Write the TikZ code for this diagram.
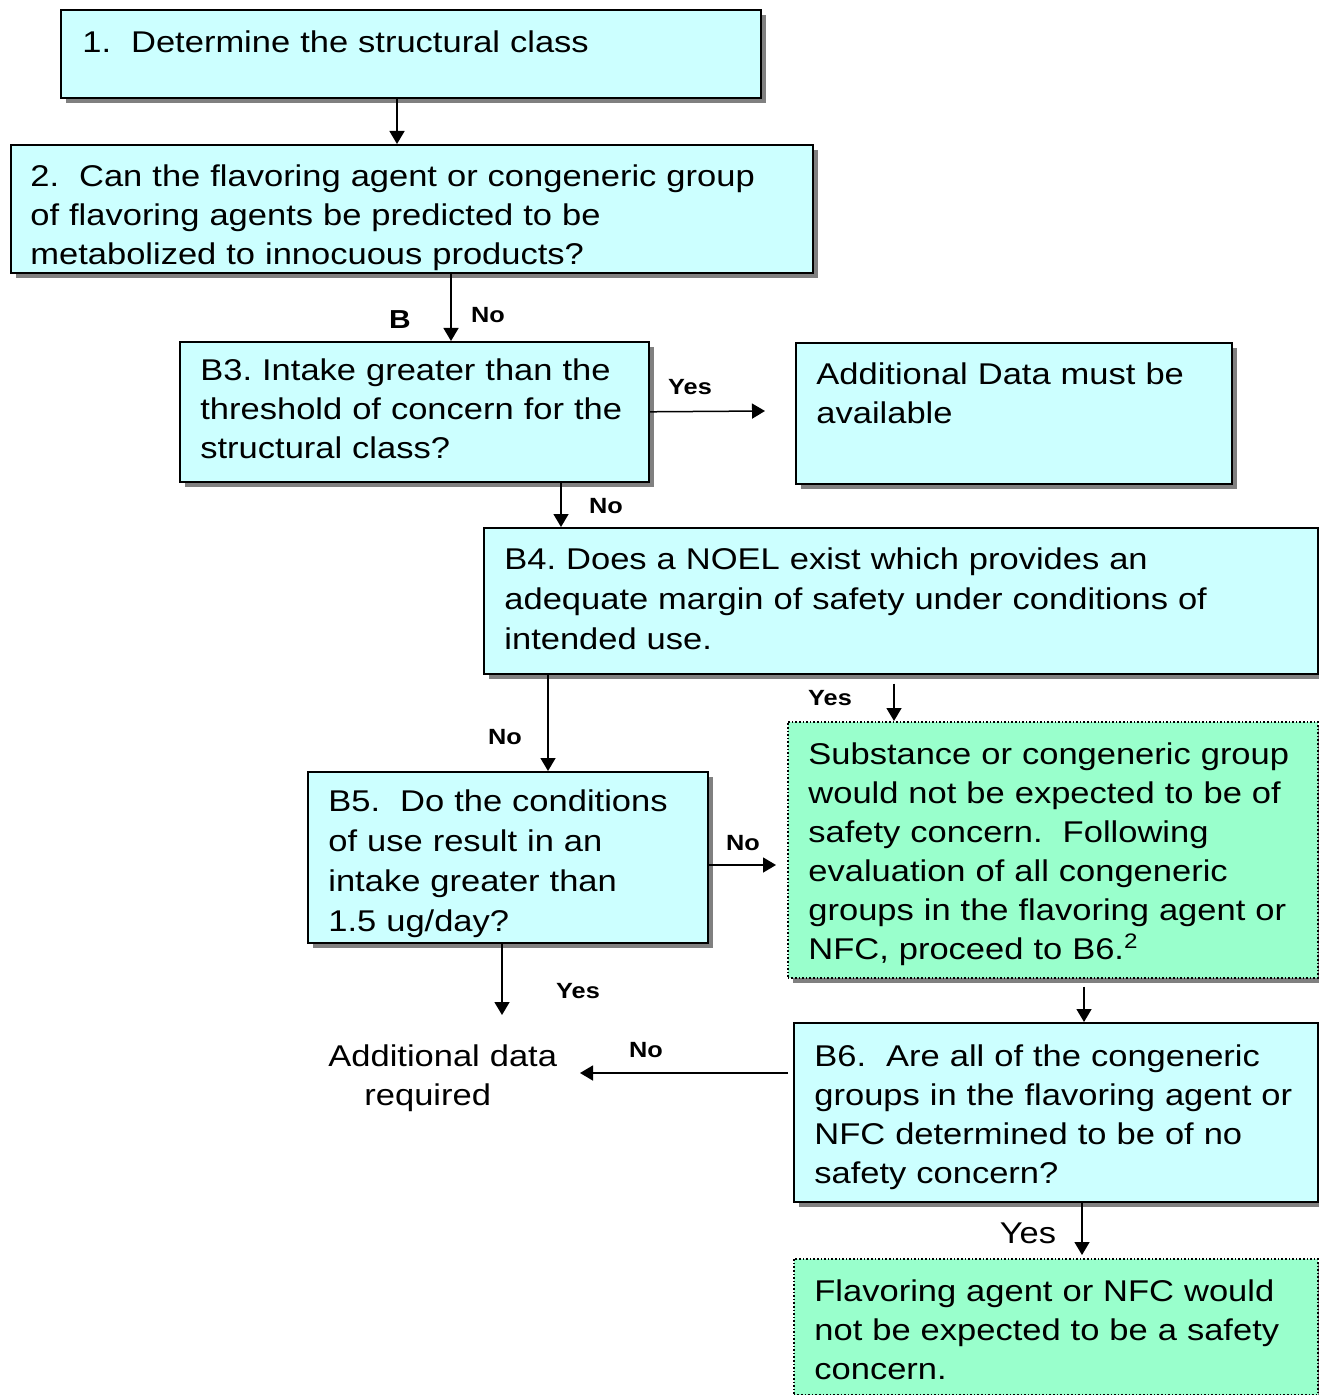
\documentclass[tikz,border=0pt]{standalone}
\usepackage{fontspec}
\setmainfont{Liberation Sans}[FakeStretch=1.15]
\usepackage{tikz}
\usetikzlibrary{arrows.meta,positioning,calc,shadows}
\definecolor{boxcyan}{HTML}{CCFFFF}
\definecolor{boxgreen}{HTML}{99FFCC}
\definecolor{shade}{HTML}{808080}
\tikzset{
    stepbox/.style={draw=black,fill=boxcyan,line width=0.8pt,anchor=north west,
      inner sep=0pt,drop shadow={shadow xshift=2.5pt,shadow yshift=-2.5pt,
      fill=shade,opacity=1}},
    okbox/.style={stepbox,fill=boxgreen,densely dotted},
    boxtext/.style={anchor=base west,inner sep=0pt,align=left,
      font=\fontsize{15}{19.5}\selectfont\frenchspacing},
    answer/.style={inner sep=0pt,font=\fontsize{11}{13}\selectfont\bfseries},
    flowarrow/.style={-{Triangle[length=6.5pt,width=7.5pt]},draw=black,
      line width=0.75pt}
}

\begin{document}
\begin{tikzpicture}[x=0.5pt,y=-0.5pt]
  \useasboundingbox (0,0) rectangle (1318,1395);

  % boxes
  \node[stepbox,minimum width=350pt,minimum height=44pt] (n1) at (60,9) {};
  \node[stepbox,minimum width=401pt,minimum height=64pt] (n2) at (10,144) {};
  \node[stepbox,minimum width=234.5pt,minimum height=70pt] (b3) at (179,341) {};
  \node[stepbox,minimum width=218pt,minimum height=70.5pt] (adddata) at (795,342) {};
  \node[stepbox,minimum width=417pt,minimum height=73pt] (b4) at (483,527) {};
  \node[okbox,minimum width=265pt,minimum height=128pt] (safe1) at (787,721) {};
  \node[stepbox,minimum width=200pt,minimum height=85.5pt] (b5) at (307,771) {};
  \node[stepbox,minimum width=262pt,minimum height=89.5pt] (b6) at (793,1022) {};
  \node[okbox,minimum width=262pt,minimum height=68pt] (safe2) at (793,1258) {};

  % box texts
  \node[boxtext,text width=340pt] (n1t) at ($(n1.north west)+(22,44)$)
    {1.\ \ Determine the structural class};
  \node[boxtext,text width=390pt] (n2t) at ($(n2.north west)+(20,43)$)
    {2.\ \ Can the flavoring agent or congeneric group\\
     of flavoring agents be predicted to be\\
     metabolized to innocuous products?};
  \node[boxtext,text width=230pt] (b3t) at ($(b3.north west)+(21,40)$)
    {B3. Intake greater than the\\threshold of concern for the\\structural class?};
  \node[boxtext,text width=210pt] (adddatat) at ($(adddata.north west)+(21,43)$)
    {Additional Data must be\\available};
  \node[boxtext,text width=405pt,
    font=\fontsize{15}{20}\selectfont\frenchspacing] (b4t) at ($(b4.north west)+(21,42)$)
    {B4. Does a NOEL exist which provides an\\
     adequate margin of safety under conditions of\\
     intended use.};
  \node[boxtext,text width=260pt] (safe1t) at ($(safe1.north west)+(21,43)$)
    {Substance or congeneric group\\would not be expected to be of\\
     safety concern.\ \ Following\\evaluation of all congeneric\\
     groups in the flavoring agent or\\NFC, proceed to B6.\textsuperscript{2}};
  \node[boxtext,text width=195pt,
    font=\fontsize{15}{20}\selectfont\frenchspacing] (b5t) at ($(b5.north west)+(21,40)$)
    {B5.\ \ Do the conditions\\of use result in an\\intake greater than\\1.5 ug/day?};
  \node[boxtext,text width=255pt] (b6t) at ($(b6.north west)+(21,44)$)
    {B6.\ \ Are all of the congeneric\\groups in the flavoring agent or\\
     NFC determined to be of no\\safety concern?};
  \node[boxtext,text width=255pt] (safe2t) at ($(safe2.north west)+(21,43)$)
    {Flavoring agent or NFC would\\not be expected to be a safety\\concern.};
  \node[boxtext,text width=130pt] (addreq) at (328,1066)
    {Additional data\\\hspace*{18pt}required};

  % free ends
  \coordinate (yesend) at (765,411);
  \coordinate (yesdown) at (502,1015);
  \coordinate (noend) at (580,1073);

  % arrows
  \draw[flowarrow] ($(n1.south west)+(337,0)$) -- ($(n2.north west)+(387,0)$);
  \draw[flowarrow] ($(n2.south west)+(441,0)$) -- ($(b3.north west)+(272,0)$);
  \draw[flowarrow] (b3.east) -- (yesend);
  \draw[flowarrow] ($(b3.south west)+(382,0)$) -- ($(b4.north west)+(78,0)$);
  \draw[flowarrow] ($(b4.south west)+(411,9)$) -- ($(safe1.north west)+(107,0)$);
  \draw[flowarrow] ($(b4.south west)+(65,0)$) -- ($(b5.north west)+(241,0)$);
  \draw[flowarrow] ($(b5.north east)+(0,94)$) -- ($(safe1.north west)+(-11,144)$);
  \draw[flowarrow] ($(b5.south west)+(195,0)$) -- (yesdown);
  \draw[flowarrow] ($(safe1.south west)+(297,8)$) -- ($(b6.north west)+(291,0)$);
  \draw[flowarrow] ($(b6.north west)+(-5,51)$) -- (noend);
  \draw[flowarrow] ($(b6.south west)+(289,0)$) -- ($(safe2.north west)+(289,-3)$);

  % answers
  \node[answer,font=\fontsize{13}{15}\selectfont\bfseries] (lblB) at (400,320) {B};
  \node[answer] (no1) at (488,315) {No};
  \node[answer] (yes1) at (690,387) {Yes};
  \node[answer] (no2) at (606,506) {No};
  \node[answer] (yes2) at (830,698) {Yes};
  \node[answer] (no3) at (505,737) {No};
  \node[answer] (no4) at (743,843) {No};
  \node[answer] (yes3) at (578,991) {Yes};
  \node[answer] (no5) at (646,1050) {No};
  \node[answer,font=\fontsize{15}{18}\selectfont] (yes4) at (1028,1233) {Yes};
\end{tikzpicture}
\end{document}
